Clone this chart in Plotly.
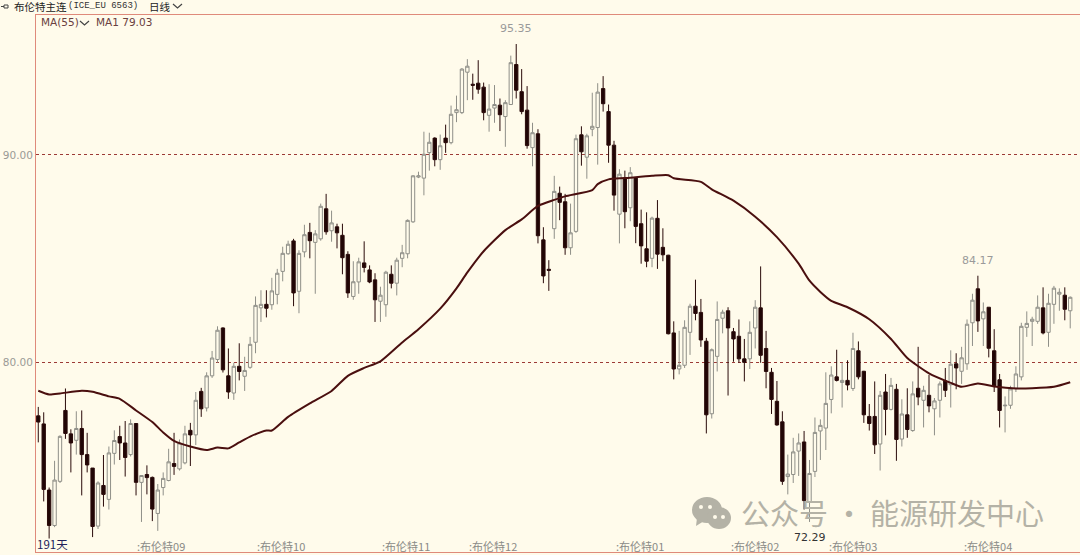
import plotly.graph_objects as go

open_ = [77.41,77.02,73.83,72.12,74.25,77.67,76.54,76.23,76.80,75.54,74.89,72.09,74.05,73.38,75.60,76.41,76.10,75.54,77.04,74.20,
74.58,74.44,72.70,73.95,74.29,75.11,74.85,75.14,76.71,76.49,78.59,77.79,79.34,80.13,81.65,79.34,78.51,79.80,79.32,79.75,
80.96,82.62,82.79,82.77,83.27,84.38,85.23,85.85,83.42,85.32,86.26,85.78,85.95,87.40,86.34,86.53,86.12,85.20,83.17,83.87,
84.79,84.45,83.97,82.94,82.77,84.24,83.81,85.01,85.23,86.77,88.93,88.88,90.11,90.81,89.77,90.81,90.59,92.04,92.04,93.99,
93.41,93.46,93.27,91.91,92.26,92.40,91.85,92.43,94.36,93.05,92.16,90.35,91.02,85.90,84.48,86.44,88.15,87.74,85.52,86.31,
90.97,89.89,91.24,91.32,93.20,92.09,90.47,87.14,88.88,87.45,88.88,86.68,85.47,85.01,86.94,85.54,85.16,81.41,79.67,79.85,
81.44,82.70,82.40,81.01,77.51,80.28,82.12,82.48,81.47,81.25,80.16,80.16,81.65,82.62,80.66,79.51,78.11,77.12,74.48,74.58,
75.71,76.15,73.23,74.73,76.68,76.82,78.20,79.29,79.02,79.12,78.73,80.55,79.56,77.38,77.38,76.05,78.56,77.72,78.69,76.29,
77.46,76.70,78.74,78.16,78.40,77.75,78.16,79.09,78.91,79.92,79.56,79.92,81.90,83.54,82.09,82.65,80.55,79.15,77.89,77.92,
78.74,79.29,81.68,81.97,81.97,82.62,81.44,82.79,83.28,83.23,82.48]
high = [77.84,77.58,73.95,75.24,76.47,78.73,76.76,77.63,77.67,76.59,74.89,74.25,75.52,75.93,76.71,76.93,77.16,77.24,77.04,74.54,
75.02,74.48,74.12,74.68,75.82,76.59,76.27,76.93,77.07,78.56,78.76,79.51,80.54,81.73,81.68,80.66,79.97,80.91,80.26,81.22,
83.17,83.47,83.47,84.07,84.50,85.57,85.86,85.95,85.40,86.63,86.72,86.37,87.65,88.12,87.31,86.68,86.68,85.35,84.87,85.04,
85.83,84.67,84.29,83.64,84.41,84.67,85.04,85.66,86.89,89.02,89.19,91.12,91.07,90.85,90.98,91.46,92.38,92.86,94.19,94.62,
93.92,94.57,93.49,93.41,93.37,92.72,92.64,94.79,95.35,94.14,93.32,91.55,91.24,86.51,84.92,88.99,88.47,88.12,87.65,90.98,
91.38,91.02,93.00,93.46,93.80,92.43,90.68,89.31,89.24,89.41,88.93,87.36,87.23,87.02,87.82,86.46,85.18,81.97,81.51,82.02,
82.82,83.98,83.05,81.17,80.66,82.93,82.53,82.65,81.65,82.06,81.12,81.97,82.99,84.62,81.51,79.72,79.09,77.63,75.54,76.35,
76.56,76.68,75.28,77.33,77.24,79.51,79.80,80.60,79.97,80.09,81.42,81.00,79.58,77.98,79.07,78.61,79.43,79.24,78.95,78.21,
78.74,79.07,80.74,78.86,79.38,78.27,79.07,79.72,80.57,80.43,80.74,82.06,83.30,84.17,82.88,82.65,81.59,79.43,78.35,78.86,
79.80,81.90,82.45,82.19,83.22,83.61,83.30,83.68,83.56,83.61,83.17]
low = [76.13,73.28,71.49,72.04,74.17,76.30,74.68,75.54,73.57,74.68,71.56,71.95,73.03,72.89,75.06,75.28,74.48,75.45,73.57,72.29,
73.62,72.33,71.86,73.57,74.25,74.56,74.77,75.07,74.99,76.00,77.36,77.62,79.24,79.97,79.50,78.23,78.18,79.12,78.61,79.68,
80.43,81.94,82.16,82.53,82.79,83.90,85.18,82.70,82.36,85.06,85.01,83.30,85.86,86.15,85.81,85.49,84.24,83.10,83.01,83.30,
84.33,83.81,81.94,81.94,82.19,83.56,83.22,84.58,85.01,86.72,88.88,88.05,89.24,89.45,89.28,90.10,90.51,91.58,91.97,92.64,
92.66,92.95,91.67,91.12,91.55,91.15,90.39,92.43,92.72,91.96,90.30,89.45,85.73,83.81,83.44,85.95,86.85,85.18,85.18,86.24,
89.48,88.85,90.90,89.53,92.09,89.62,87.31,85.73,86.46,86.80,85.74,84.75,84.58,84.58,84.50,84.87,81.34,79.17,79.41,79.72,
80.35,82.02,80.74,76.56,77.28,79.55,81.39,78.39,80.02,79.97,79.07,79.67,80.66,79.97,78.74,77.50,76.93,74.08,73.62,74.17,
74.51,72.89,72.29,74.46,75.28,75.76,77.53,79.07,77.81,78.64,78.61,79.17,77.07,76.70,75.57,74.77,76.47,77.67,75.24,75.93,
76.35,76.64,77.92,76.85,77.58,76.47,77.33,78.32,77.81,78.69,78.95,79.63,80.78,81.46,80.78,80.23,78.56,76.85,76.61,77.75,
78.56,79.12,81.22,80.78,81.85,81.34,80.74,81.85,82.48,82.02,81.63]
close = [77.11,73.86,72.12,74.31,76.42,76.56,76.10,76.80,75.54,75.04,72.07,74.17,73.62,75.62,76.22,76.10,75.40,77.04,74.20,74.53,
74.43,72.91,73.83,74.39,75.19,74.97,76.10,76.54,76.49,78.16,77.75,79.34,80.20,81.54,79.63,78.56,79.80,79.55,79.60,80.86,
82.74,82.79,82.60,83.44,84.29,85.25,85.69,83.34,85.25,86.15,85.86,86.19,87.52,86.29,86.72,86.24,85.04,83.34,83.88,84.84,
84.57,83.87,83.01,83.23,84.34,83.81,84.92,85.28,86.84,88.99,88.99,90.03,90.61,89.77,90.44,90.59,91.96,92.18,94.14,94.28,
93.36,93.17,92.04,92.21,92.43,91.94,92.52,94.45,93.12,92.09,90.45,91.07,86.10,84.16,84.43,88.24,87.71,85.52,86.24,90.78,
90.15,90.92,91.38,93.03,92.47,90.47,88.06,89.07,87.26,89.14,86.55,85.61,84.87,86.95,85.21,85.18,81.37,79.67,79.85,81.68,
82.70,82.35,81.07,77.46,80.60,82.06,82.41,81.65,81.12,80.16,79.99,81.44,82.65,80.33,79.55,78.20,76.97,74.25,74.60,75.67,
76.10,73.32,74.63,76.61,76.95,78.01,79.38,79.12,79.12,78.90,80.66,79.29,77.46,77.04,76.01,78.40,77.72,78.88,76.27,77.50,
76.75,78.47,78.32,78.64,77.89,78.13,78.95,78.64,79.90,79.72,80.21,81.83,82.99,81.99,82.43,80.67,78.86,77.67,77.92,78.71,
79.43,81.73,81.87,82.07,82.65,81.41,82.84,83.57,83.37,82.55,83.13]

ma_index = [0,2,4,8,10,13,15,18,21,23,25,28,31,33,35,37,39,42,43,46,50,54,57,60,63,67,70,74,77,79,82,86,89,92,95,97,102,103,105,108,113,116,117,122,124,128,132,136,140,142,144,146,149,153,157,160,164,168,170,173,176,180,183,187,190]
ma_values = [78.62,78.44,78.49,78.62,78.57,78.35,78.23,77.67,77.11,76.61,76.20,75.93,75.76,75.88,75.84,76.13,76.41,76.70,76.70,77.36,78.01,78.61,79.34,79.72,80.04,80.95,81.59,82.58,83.56,84.33,85.35,86.37,86.89,87.54,87.83,88.00,88.30,88.59,88.82,88.88,88.99,89.02,88.87,88.70,88.34,87.79,87.02,86.03,84.75,83.93,83.39,82.96,82.65,82.07,81.12,80.20,79.46,79.00,78.81,78.97,78.83,78.73,78.74,78.81,79.03]

month_pos = [18.4,40.5,63.5,79.5,106.6,127.8,145.8,170.6]
month_labels = [":布伦特09",":布伦特10",":布伦特11",":布伦特12",":布伦特01",":布伦特02",":布伦特03",":布伦特04"]
peak_labels = [(88,95.35,"95.35",7,"#9a9a9a"),(173,84.17,"84.17",7,"#9a9a9a"),(142,72.29,"72.29",-7,"#333333")]

BG = "#FFFBEB"
ML, MT, MR, MB = 36, 15, 0, 3
W, H = 1080, 555
def px(v): return (v - ML) / (W - ML - MR)
def py(v): return 1 - (v - MT) / (H - MT - MB)

CJK = "Noto Sans CJK SC"
fig = go.Figure()
fig.add_trace(go.Candlestick(
    x=list(range(len(open_))), open=open_, high=high, low=low, close=close,
    increasing=dict(line=dict(color="#8f8f88", width=1), fillcolor=BG),
    decreasing=dict(line=dict(color="#2a0a0a", width=1), fillcolor="#200505"),
    whiskerwidth=0, hoverinfo="skip", showlegend=False))
fig.add_trace(go.Scatter(x=ma_index, y=ma_values, mode="lines",
    line=dict(color="#4a0f0f", width=2, shape="spline", smoothing=0.6), hoverinfo="skip", showlegend=False))

ann = []
def label(x, y, text, size=11, color="#333", font=CJK, anchor="left"):
    ann.append(dict(x=px(x), y=py(y), xref="paper", yref="paper", text=text, showarrow=False,
                    xanchor=anchor, yanchor="middle", xshift=-1, font=dict(size=size, color=color, family=font)))

label(13, 6.5, "布伦特主连", 10.5, "#222")
label(67, 6.5, "(ICE_EU 6563)", 9, "#333", "Liberation Mono")
label(148, 6.5, "日线", 10.5, "#222")
label(40, 22, "MA(55)", 10.5, "#6a4040", "DejaVu Sans")
label(95, 22, "MA1 79.03", 10.5, "#6a4040", "DejaVu Sans")
label(36, 544, "191天", 11.5, "#20205a")
for m, t in zip(month_pos, month_labels):
    ann.append(dict(x=m, y=py(545.5), xref="x", yref="paper", text=t, showarrow=False, xanchor="left", xshift=-3,
                    yanchor="middle", font=dict(size=11, color="#8a8a86", family=CJK)))
for i, v, t, sh, c in peak_labels:
    ann.append(dict(x=i, y=v, xref="x", yref="y", text=t, showarrow=False, yshift=sh, yanchor="bottom" if sh > 0 else "top",
                    font=dict(size=11, color=c, family="DejaVu Sans")))
label(740, 512, "公众号 · 能源研发中心", 29, "#b4b2a6")

shapes = []
def chevron(x0, y, w=9, h=4):
    shapes.append(dict(type="path", xref="paper", yref="paper", line=dict(color="#444", width=1.2),
        path=f"M {px(x0)} {py(y)} L {px(x0+w/2)} {py(y+h)} L {px(x0+w)} {py(y)}"))
chevron(173, 4)
chevron(80, 21)
shapes.append(dict(type="rect", xref="paper", yref="paper", x0=px(4), x1=px(8), y0=py(8), y1=py(5),
                   line=dict(color="#444", width=1)))
shapes.append(dict(type="line", xref="paper", yref="paper", x0=px(1), x1=px(4), y0=py(6.5), y1=py(6.5),
                   line=dict(color="#444", width=1)))
def ell(x0, y0, x1, y1, color, opacity=1):
    shapes.append(dict(type="circle", xref="paper", yref="paper", x0=px(x0), x1=px(x1), y0=py(y1), y1=py(y0),
                       fillcolor=color, line=dict(width=0), layer="above", opacity=opacity))
ell(692, 497, 722, 523, "#b4b2a6")
ell(707, 507, 731, 529, "#b4b2a6")
shapes.append(dict(type="path", xref="paper", yref="paper", fillcolor="#b4b2a6", line=dict(width=0), layer="above",
    path=f"M {px(697)} {py(518)} L {px(696)} {py(526)} L {px(704)} {py(521)} Z"))
for a, b in [(699, 505), (708, 505), (713, 515), (721, 515)]:
    ell(a, b, a + 4, b + 4, BG)

fig.update_layout(
    width=W, height=H, autosize=False, paper_bgcolor=BG, plot_bgcolor=BG,
    margin=dict(l=ML, r=MR, t=MT, b=MB), shapes=shapes, annotations=ann, showlegend=False, boxgap=0.12,
    xaxis=dict(range=[-0.42, 191.8], rangeslider=dict(visible=False), showgrid=False, zeroline=False,
               showticklabels=False, ticks="", showline=True, linecolor="#df8a7a", linewidth=1, mirror=True),
    yaxis=dict(range=[70.84, 96.75], tickvals=[80, 90], ticktext=["80.00", "90.00"], ticks="",
               tickfont=dict(size=10.5, color="#9a9a96", family="DejaVu Sans"),
               showgrid=True, gridcolor="#9c3a36", griddash="3px,3px", gridwidth=1, zeroline=False,
               showline=True, linecolor="#df8a7a", linewidth=1),
)
fig.write_html("out.html", config=dict(displayModeBar=False),
               post_script="document.body.style.margin='0';document.documentElement.style.overflow='hidden';document.body.style.background='#FFFBEB';")
